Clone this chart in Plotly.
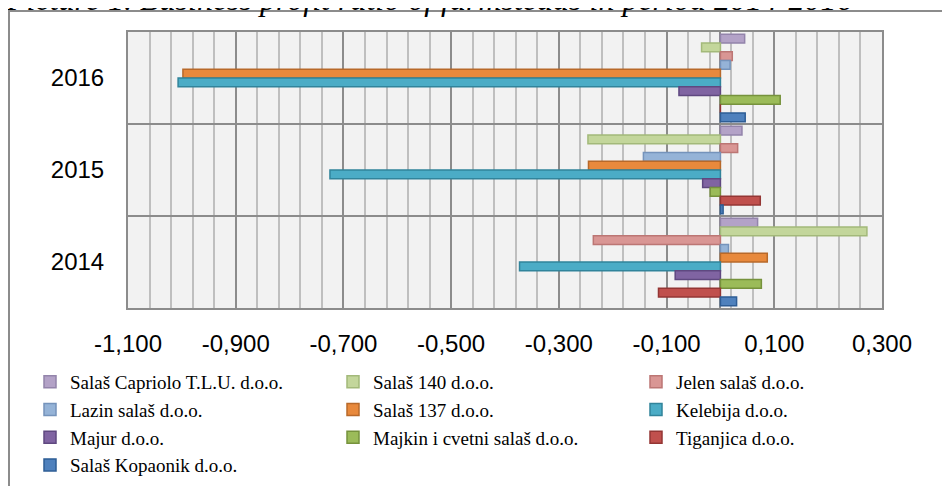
import plotly.graph_objects as go

years = ["2014", "2015", "2016"]
series_names = [
    "Salaš Capriolo T.L.U. d.o.o.",
    "Salaš 140 d.o.o.",
    "Jelen salaš d.o.o.",
    "Lazin salaš d.o.o.",
    "Salaš 137 d.o.o.",
    "Kelebija d.o.o.",
    "Majur d.o.o.",
    "Majkin i cvetni salaš d.o.o.",
    "Tiganjica d.o.o.",
    "Salaš Kopaonik d.o.o.",
]
# values for 2014, 2015, 2016
capriolo = [0.069, 0.040, 0.045]
salas140 = [0.272, -0.246, -0.035]
jelen = [-0.236, 0.032, 0.022]
lazin = [0.015, -0.143, 0.018]
salas137 = [0.087, -0.245, -0.998]
kelebija = [-0.373, -0.725, -1.007]
majur = [-0.084, -0.033, -0.077]
majkin = [0.076, -0.019, 0.111]
tiganjica = [-0.115, 0.074, 0.0]
kopaonik = [0.030, 0.005, 0.046]
series_values = [capriolo, salas140, jelen, lazin, salas137,
                 kelebija, majur, majkin, tiganjica, kopaonik]

fill_colors = ["#B3A2C7", "#C3D69B", "#D99694", "#95B3D7", "#E8893C",
               "#4BACC6", "#8064A2", "#9BBB59", "#C0504D", "#4F81BD"]
line_colors = ["#9384AB", "#A3B97A", "#BC7674", "#7593BB", "#B8692A",
               "#31849B", "#5F4880", "#76923C", "#943634", "#2E5D95"]

tick_vals = [-1.1, -0.9, -0.7, -0.5, -0.3, -0.1, 0.1, 0.3]
tick_text = ["-1,100", "-0,900", "-0,700", "-0,500", "-0,300", "-0,100", "0,100", "0,300"]

title_text = "Picture 1. Business profit ratio of farmsteads in period 2014-2016"

# the page places the figure 8px from the top-left corner
OFF = 8
W, H = 950 - OFF, 486 - OFF


def px(x):
    return (x - OFF) / W


def py(y):
    return 1 - (y - OFF) / H


fig = go.Figure()
for name, vals, fc, lc in zip(series_names, series_values, fill_colors, line_colors):
    fig.add_trace(go.Bar(
        y=years, x=vals, name=name, orientation="h",
        marker=dict(color=fc, line=dict(color=lc, width=1.5)),
    ))

fig.update_layout(
    width=W, height=H,
    margin=dict(l=0, r=0, t=0, b=0, autoexpand=False),
    paper_bgcolor="white",
    plot_bgcolor="#F2F2F2",
    barmode="group",
    bargap=0.05,
    bargroupgap=0,
    showlegend=True,
    legend=dict(
        orientation="h",
        x=px(30), xanchor="left",
        y=py(363), yanchor="top",
        font=dict(family="Liberation Serif", size=19, color="#000000"),
        entrywidth=258,
        entrywidthmode="pixels",
        itemclick=False,
        bgcolor="rgba(0,0,0,0)",
        traceorder="normal",
    ),
    xaxis=dict(
        domain=[px(128), px(882)],
        range=[-1.1, 0.3],
        tickmode="array",
        tickvals=tick_vals,
        ticktext=tick_text,
        tickfont=dict(family="Liberation Sans", size=24, color="#000000"),
        ticks="",
        ticklabelstandoff=13,
        showgrid=True,
        gridcolor="#8C8C8C",
        gridwidth=2,
        minor=dict(tick0=-1.1, dtick=0.04, showgrid=True, gridcolor="#BFBFBF", gridwidth=1.5),
        zeroline=True,
        zerolinecolor="#8C8C8C",
        zerolinewidth=2,
        showline=True,
        linecolor="#8C8C8C",
        linewidth=2,
        mirror=True,
        fixedrange=True,
        automargin=False,
    ),
    yaxis=dict(
        domain=[py(308), py(32)],
        type="category",
        categoryorder="array",
        categoryarray=["2016", "2015", "2014"],
        autorange="reversed",
        tickson="boundaries",
        ticks="",
        ticklabelstandoff=17,
        tickfont=dict(family="Liberation Sans", size=24, color="#000000"),
        showgrid=True,
        gridcolor="#8C8C8C",
        gridwidth=2,
        showline=True,
        linecolor="#8C8C8C",
        linewidth=2,
        mirror=True,
        fixedrange=True,
        automargin=False,
    ),
    shapes=[dict(
        type="rect", xref="paper", yref="paper",
        x0=px(9), x1=1.05, y0=-0.05, y1=py(11),
        line=dict(color="#8C8C8C", width=2),
        fillcolor="rgba(0,0,0,0)", layer="below",
    )],
    annotations=[dict(
        text=title_text, xref="paper", yref="paper",
        x=px(4), xanchor="left", y=py(19), yanchor="bottom",
        showarrow=False,
        font=dict(family="Liberation Serif", size=32, color="#000000", style="italic"),
    )],
)

fig.write_html("out.html", config={"displayModeBar": False})
